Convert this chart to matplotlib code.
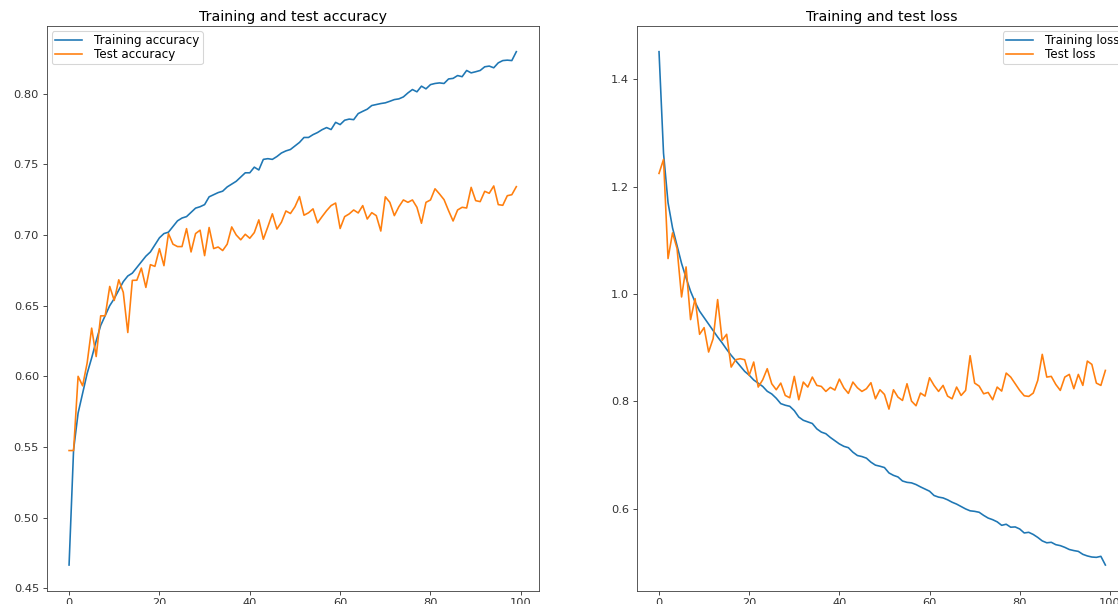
import matplotlib
matplotlib.use("Agg")
import matplotlib.pyplot as plt
import numpy as np

epochs = list(range(100))

train_acc = [0.4665, 0.548, 0.574, 0.588, 0.602, 0.613, 0.625, 0.636, 0.643, 0.650,
             0.655, 0.661, 0.667, 0.671, 0.673, 0.677, 0.681, 0.685, 0.688, 0.693,
             0.698, 0.701, 0.702, 0.706, 0.710, 0.712, 0.713, 0.716, 0.719, 0.720,
             0.7215, 0.727, 0.7285, 0.730, 0.731, 0.734, 0.736, 0.738, 0.741, 0.744,
             0.744, 0.748, 0.746, 0.7535, 0.754, 0.7535, 0.7555, 0.758, 0.7595, 0.7605,
             0.763, 0.7655, 0.769, 0.769, 0.771, 0.7725, 0.7745, 0.776, 0.7746, 0.7797,
             0.7781, 0.7812, 0.782, 0.7816, 0.7859, 0.7875, 0.789, 0.7916, 0.7923, 0.793,
             0.7935, 0.7946, 0.7958, 0.7963, 0.7977, 0.8005, 0.8029, 0.8013, 0.8053, 0.8034,
             0.8064, 0.8072, 0.8076, 0.8072, 0.8104, 0.8108, 0.8128, 0.812, 0.8164, 0.8147,
             0.8155, 0.8164, 0.819, 0.8195, 0.8183, 0.8218, 0.8234, 0.8237, 0.8234, 0.8297]

test_acc = [0.5475, 0.5475, 0.600, 0.5933, 0.6094, 0.6341, 0.614, 0.6428, 0.6428, 0.6636,
            0.6537, 0.6683, 0.6594, 0.631, 0.6679, 0.668, 0.6766, 0.6629, 0.679, 0.6778,
            0.6903, 0.6783, 0.701, 0.6935, 0.6918, 0.6918, 0.7045, 0.688, 0.701, 0.7034,
            0.6854, 0.7053, 0.6904, 0.6915, 0.689, 0.6935, 0.7057, 0.7, 0.6966, 0.7005,
            0.6977, 0.7017, 0.7107, 0.697, 0.7058, 0.715, 0.7042, 0.709, 0.717, 0.7152,
            0.72, 0.7272, 0.714, 0.7157, 0.7185, 0.7086, 0.713, 0.7172, 0.7208, 0.7226,
            0.7046, 0.713, 0.7149, 0.7177, 0.7156, 0.7208, 0.7113, 0.7158, 0.7137, 0.7028,
            0.727, 0.7231, 0.7137, 0.72, 0.7248, 0.7231, 0.7248, 0.7196, 0.7083, 0.7231,
            0.7248, 0.7327, 0.729, 0.725, 0.7172, 0.7099, 0.7177, 0.7196, 0.7191, 0.7337,
            0.7243, 0.7236, 0.7309, 0.7295, 0.7347, 0.7215, 0.721, 0.7278, 0.7285, 0.7342]

train_loss = [1.451, 1.262, 1.170, 1.123, 1.090, 1.057, 1.030, 1.005, 0.985, 0.968,
              0.956, 0.944, 0.932, 0.920, 0.909, 0.897, 0.886, 0.876, 0.866, 0.856,
              0.849, 0.840, 0.834, 0.828, 0.819, 0.814, 0.806, 0.796, 0.793, 0.791,
              0.783, 0.771, 0.765, 0.762, 0.759, 0.749, 0.743, 0.740, 0.733, 0.727,
              0.721, 0.7165, 0.714, 0.7056, 0.6994, 0.6975, 0.6945, 0.687, 0.6815, 0.6795,
              0.677, 0.667, 0.6625, 0.6595, 0.652, 0.6495, 0.6485, 0.6454, 0.641, 0.637,
              0.633, 0.625, 0.622, 0.6205, 0.617, 0.6125, 0.609, 0.6045, 0.600, 0.5965,
              0.5955, 0.5938, 0.588, 0.583, 0.580, 0.576, 0.5695, 0.5715, 0.566, 0.5665,
              0.5627, 0.5553, 0.5565, 0.5525, 0.547, 0.5405, 0.537, 0.5379, 0.5335, 0.5317,
              0.5285, 0.5245, 0.5225, 0.521, 0.5155, 0.5125, 0.5105, 0.5099, 0.5118, 0.4956]

test_loss = [1.2244, 1.2505, 1.066, 1.1138, 1.0846, 0.9945, 1.0504, 0.9523, 0.9914, 0.925,
             0.9374, 0.892, 0.9169, 0.9896, 0.9138, 0.925, 0.864, 0.8777, 0.8796, 0.8777,
             0.8485, 0.8734, 0.8268, 0.8404, 0.861, 0.833, 0.8218, 0.8342, 0.8112, 0.8069,
             0.8467, 0.8032, 0.8361, 0.8268, 0.8454, 0.8299, 0.828, 0.8187, 0.8262, 0.8212,
             0.8416, 0.8252, 0.815, 0.8361, 0.8255, 0.8187, 0.8237, 0.8349, 0.805, 0.8218,
             0.8131, 0.7858, 0.8218, 0.8081, 0.8019, 0.833, 0.8007, 0.792, 0.8156, 0.81,
             0.8442, 0.8299, 0.8187, 0.8299, 0.81, 0.805, 0.8268, 0.8112, 0.8206, 0.8852,
             0.8342, 0.8286, 0.8143, 0.8168, 0.8032, 0.8268, 0.8193, 0.8529, 0.8454, 0.833,
             0.8206, 0.8106, 0.8094, 0.8156, 0.8392, 0.8877, 0.8454, 0.8467, 0.8317, 0.8206,
             0.8454, 0.8504, 0.8237, 0.8504, 0.8299, 0.8752, 0.869, 0.8342, 0.8299, 0.8578]

DPI = 78
fig = plt.figure(figsize=(1118 / DPI, 604 / DPI), dpi=DPI)

W, H = 1118.0, 604.0
ax1 = fig.add_axes([46.7 / W, (H - 590.7) / H, 492.0 / W, 564.7 / H])
ax2 = fig.add_axes([636.7 / W, (H - 590.7) / H, 491.0 / W, 564.7 / H])

leg_kw = dict(fontsize=11, labelspacing=0.05, borderpad=0.25, handlelength=2.3,
              handletextpad=1.0, borderaxespad=0.45)

ax1.plot(epochs, train_acc, label="Training accuracy")
ax1.plot(epochs, test_acc, label="Test accuracy")
ax1.set_title("Training and test accuracy", fontsize=13, pad=5)
ax1.legend(loc="upper left", **leg_kw)

ax2.plot(epochs, train_loss, label="Training loss")
ax2.plot(epochs, test_loss, label="Test loss")
ax2.set_title("Training and test loss", fontsize=13, pad=5)
ax2.legend(loc="upper right", **leg_kw)

for ax in (ax1, ax2):
    ax.tick_params(colors="#333333", labelcolor="#333333", labelsize=10.5)
    for s in ax.spines.values():
        s.set_color("#444444")

fig.savefig("out.png", dpi=DPI)
